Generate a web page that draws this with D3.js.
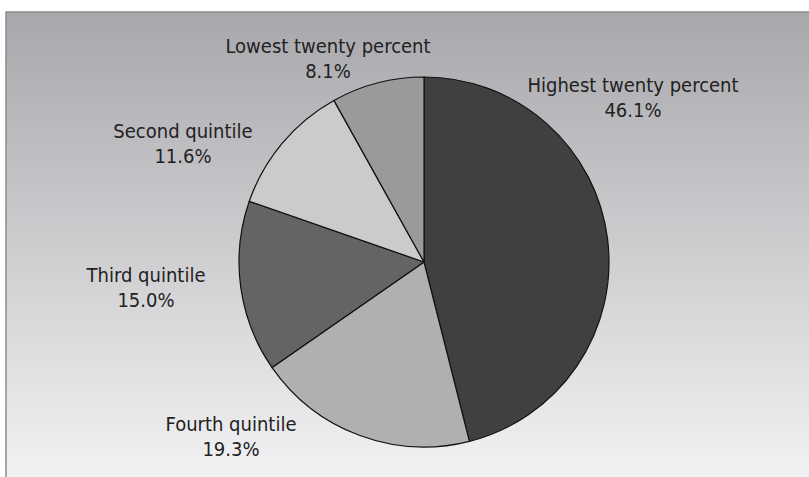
<!DOCTYPE html>
<html>
<head>
<meta charset="utf-8">
<script src="https://cdn.jsdelivr.net/npm/d3@7"></script>
<style>
  html, body { margin: 0; padding: 0; background: #fff; }
  svg { display: block; }
  .label { font-family: "DejaVu Sans Condensed", "DejaVu Sans", sans-serif; font-stretch: condensed; font-size: 20px; fill: #222; }
</style>
</head>
<body>
<svg id="chart"></svg>
<script>
// データ ( 12 時の位置から時計回り )
const categories = ["Highest twenty percent", "Fourth quintile", "Third quintile", "Second quintile", "Lowest twenty percent"];
const shares = [46.1, 19.3, 15.0, 11.6, 8.1];
const shareLabels = ["46.1%", "19.3%", "15.0%", "11.6%", "8.1%"];

const sliceColors = ["#404040", "#b0b0b0", "#646464", "#cbcbcb", "#9a9a9a"];

// ラベル位置 ( 中心 x, 1 行目のベースライン y )
const labelPos = [[633, 92], [231, 431], [146, 282], [183, 138], [328, 53]];

const width = 809, height = 477;
const cx = 424, cy = 262, radius = 185;

const svg = d3.select("#chart")
  .attr("width", width)
  .attr("height", height);

/* 背景のグラデーション */
const grad = svg.append("defs").append("linearGradient")
  .attr("id", "bg")
  .attr("x1", 0).attr("y1", 0).attr("x2", 0).attr("y2", 1);
grad.append("stop").attr("offset", "0%").attr("stop-color", "#a8a8ac");
grad.append("stop").attr("offset", "100%").attr("stop-color", "#f2f2f4");

svg.append("rect")
  .attr("x", 6).attr("y", 12)
  .attr("width", width - 6).attr("height", height - 12)
  .attr("fill", "url(#bg)");

// 枠線 ( 上と左だけ )
svg.append("path")
  .attr("d", `M6,${height} L6,12 L${width},12`)
  .attr("fill", "none")
  .attr("stroke", "#8c8c8c")
  .attr("stroke-width", 1.5);

/* 円グラフ */
const pie = d3.pie().sort(null).value(d => d);
const arc = d3.arc().innerRadius(0).outerRadius(radius);

const g = svg.append("g").attr("transform", `translate(${cx},${cy})`);
g.selectAll("path.slice")
  .data(pie(shares))
  .join("path")
  .attr("class", "slice")
  .attr("d", arc)
  .attr("fill", (d, i) => sliceColors[i])
  .attr("stroke", "#111")
  .attr("stroke-width", 1.2)
  .attr("stroke-linejoin", "round");

/* ラベル */
const labels = svg.selectAll("text.label")
  .data(categories)
  .join("text")
  .attr("class", "label")
  .attr("text-anchor", "middle")
  .attr("x", (d, i) => labelPos[i][0])
  .attr("y", (d, i) => labelPos[i][1]);

labels.append("tspan").text(d => d);
labels.append("tspan")
  .attr("x", (d, i) => labelPos[i][0])
  .attr("dy", 25)
  .text((d, i) => shareLabels[i]);
</script>
</body>
</html>
